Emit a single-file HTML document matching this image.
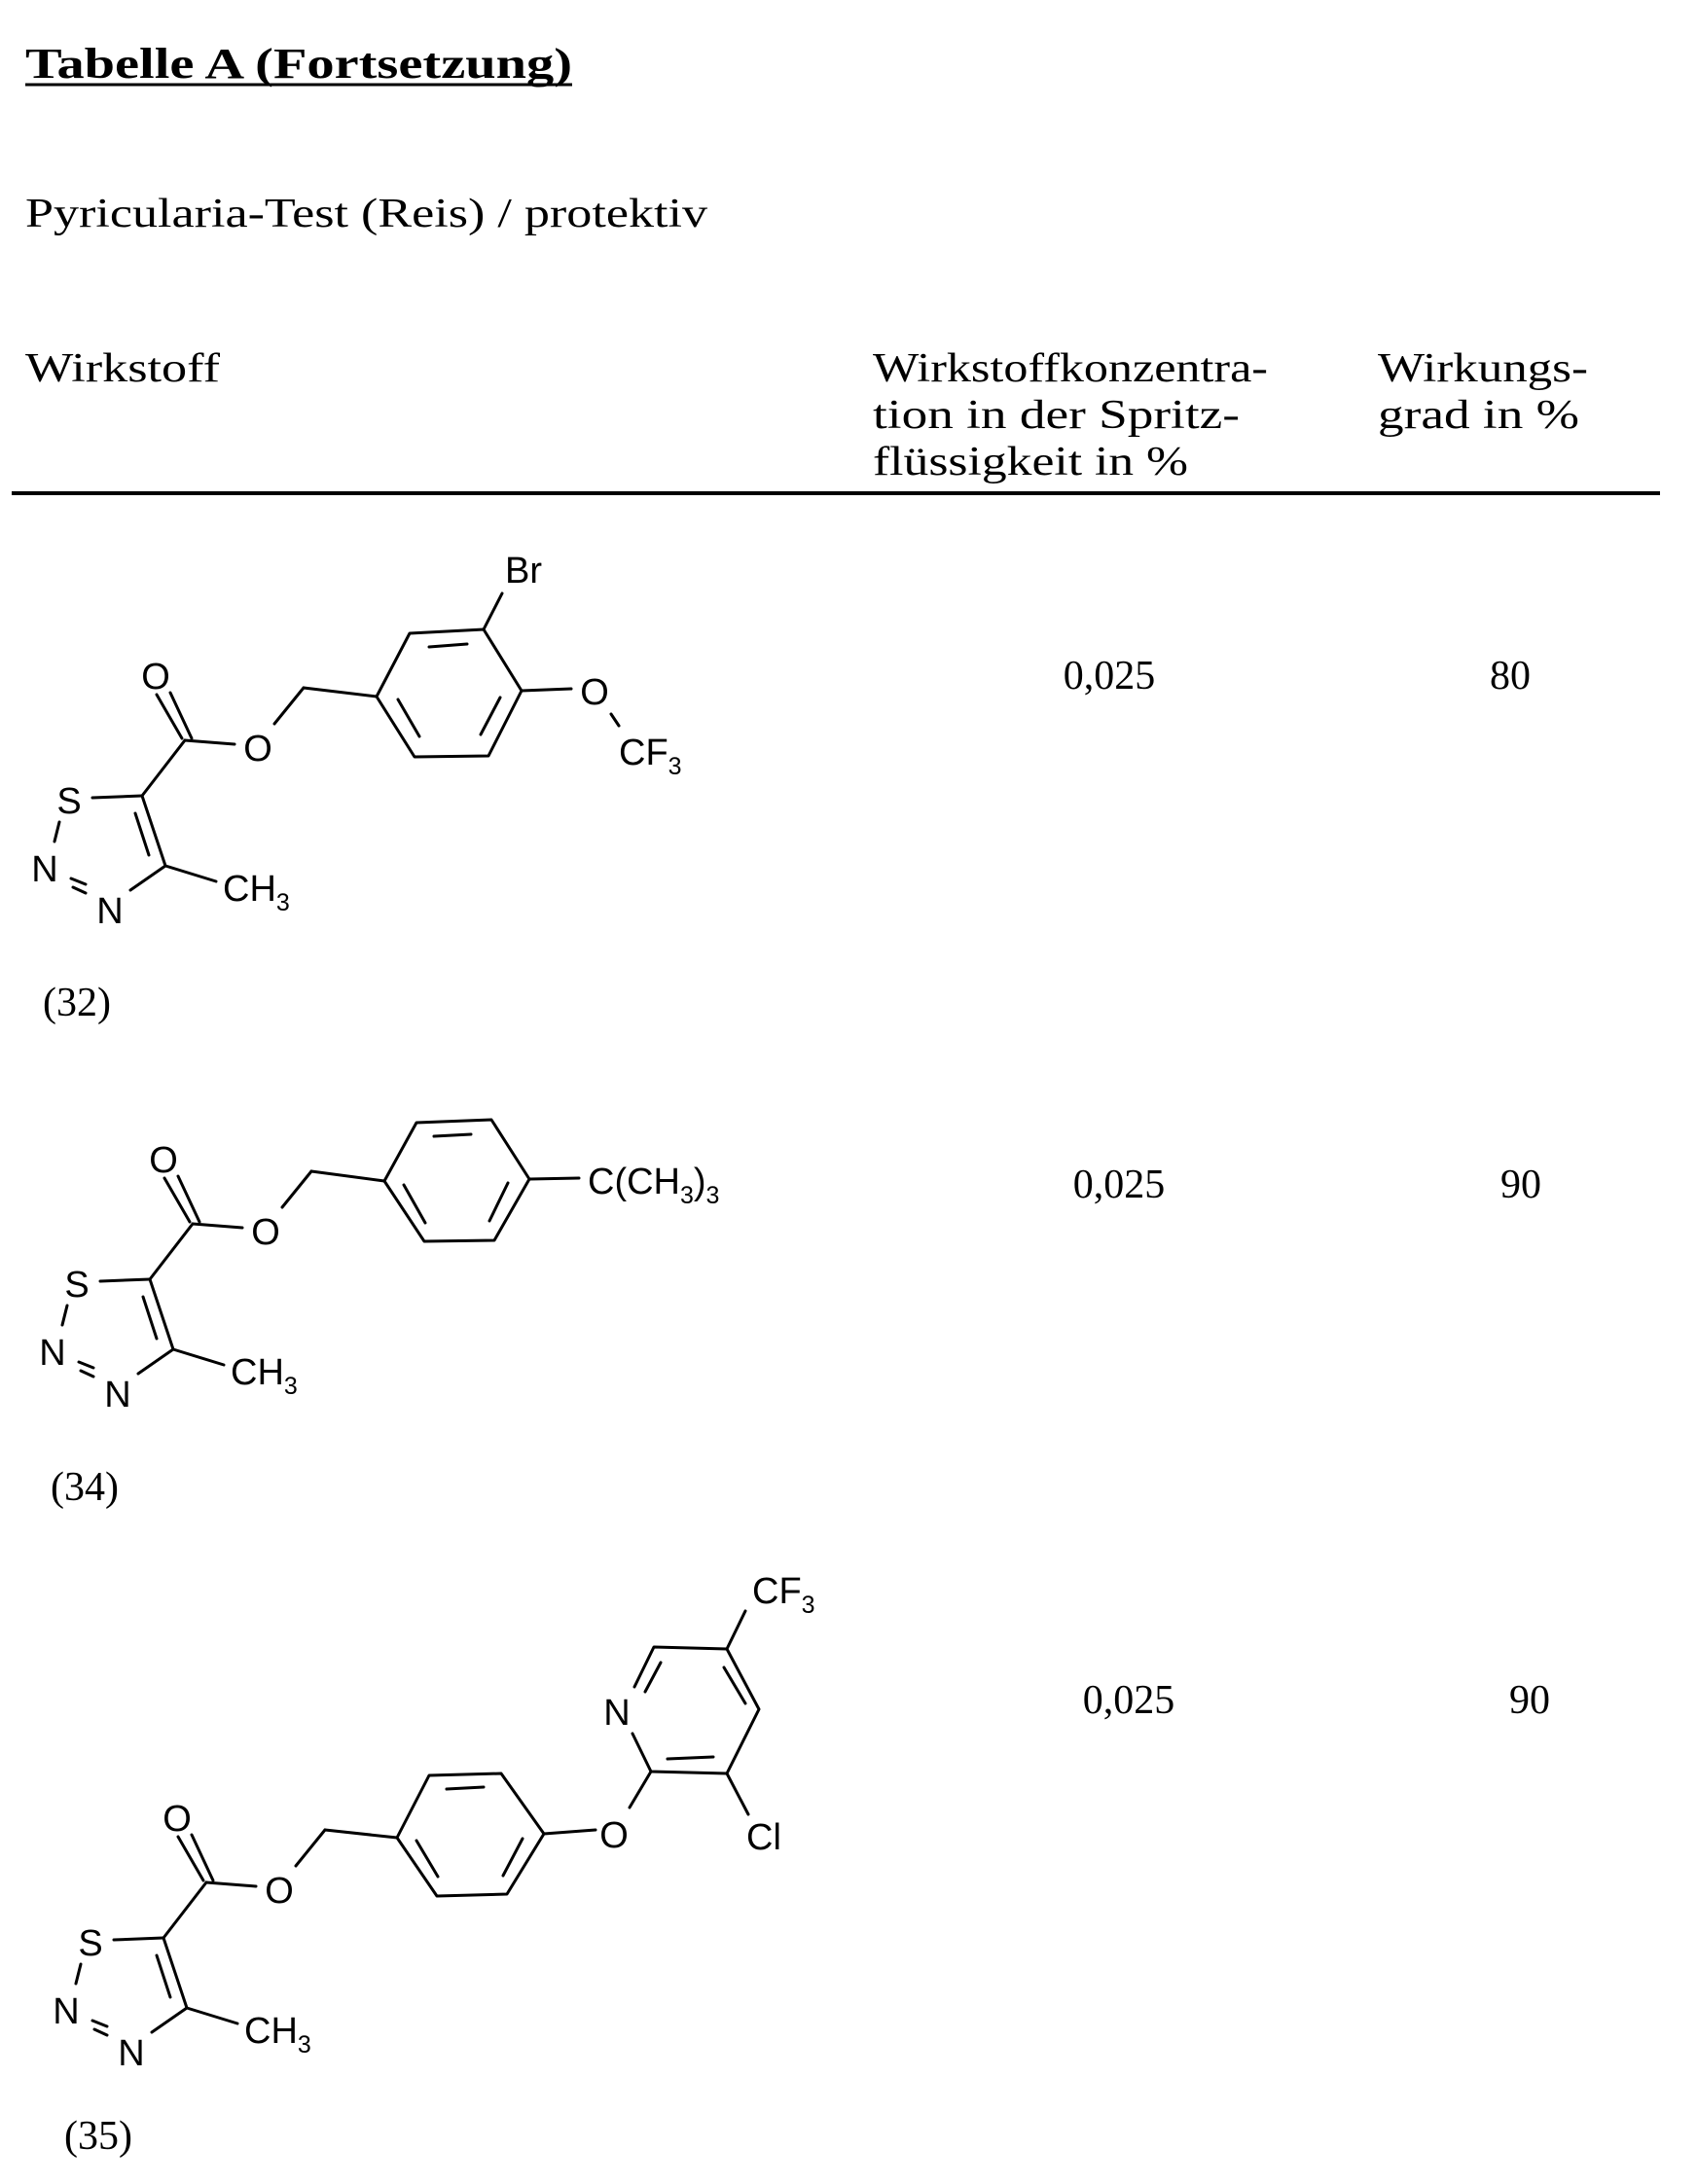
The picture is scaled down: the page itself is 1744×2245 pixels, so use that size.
<!DOCTYPE html>
<html><head><meta charset="utf-8"><style>
html,body{margin:0;padding:0;background:#fff;}
body{width:1744px;height:2245px;position:relative;overflow:hidden;}
svg{position:absolute;left:0;top:0;}
.t{font-family:"Liberation Serif",serif;fill:#000;}
.a{font-family:"Liberation Sans",sans-serif;fill:#000;font-size:38px;}
.s{font-size:25px;}
</style></head><body>
<svg width="1744" height="2245" viewBox="0 0 1744 2245">
<g class="t">
<text x="26" y="80" font-size="44" font-weight="bold" textLength="562" lengthAdjust="spacingAndGlyphs">Tabelle  A  (Fortsetzung)</text>
<line x1="26" y1="87" x2="588" y2="87" stroke="#000" stroke-width="3"/>
<text x="26" y="233" font-size="42" textLength="701" lengthAdjust="spacingAndGlyphs">Pyricularia-Test (Reis) / protektiv</text>
<text x="26" y="392" font-size="42" textLength="200" lengthAdjust="spacingAndGlyphs">Wirkstoff</text>
<text x="897" y="392" font-size="42" textLength="406" lengthAdjust="spacingAndGlyphs">Wirkstoffkonzentra-</text>
<text x="897" y="440" font-size="42" textLength="377" lengthAdjust="spacingAndGlyphs">tion in der Spritz-</text>
<text x="897" y="488" font-size="42" textLength="324" lengthAdjust="spacingAndGlyphs">flüssigkeit in %</text>
<text x="1416" y="392" font-size="42" textLength="216" lengthAdjust="spacingAndGlyphs">Wirkungs-</text>
<text x="1416" y="440" font-size="42" textLength="207" lengthAdjust="spacingAndGlyphs">grad in %</text>
<text x="1140" y="708" font-size="42" text-anchor="middle">0,025</text>
<text x="1552" y="708" font-size="42" text-anchor="middle">80</text>
<text x="1150" y="1231" font-size="42" text-anchor="middle">0,025</text>
<text x="1563" y="1231" font-size="42" text-anchor="middle">90</text>
<text x="1160" y="1761" font-size="42" text-anchor="middle">0,025</text>
<text x="1572" y="1761" font-size="42" text-anchor="middle">90</text>
<text x="79" y="1044" font-size="42" text-anchor="middle">(32)</text>
<text x="87" y="1542" font-size="42" text-anchor="middle">(34)</text>
<text x="101" y="2209" font-size="42" text-anchor="middle">(35)</text>
</g>
<line x1="12" y1="507" x2="1706" y2="507" stroke="#000" stroke-width="4"/>

<defs>
<g id="frag">
 <g stroke="#000" stroke-width="3" fill="none" stroke-linecap="round">
  <line x1="95" y1="820" x2="146" y2="818"/>
  <line x1="61" y1="845" x2="56" y2="865"/>
  <line x1="73" y1="903" x2="88" y2="909"/>
  <line x1="75" y1="912" x2="88" y2="918"/>
  <line x1="134" y1="915" x2="170" y2="890"/>
  <line x1="146" y1="818" x2="170" y2="890"/>
  <line x1="139" y1="836" x2="153" y2="879"/>
  <line x1="170" y1="890" x2="222" y2="906"/>
  <line x1="146" y1="818" x2="190" y2="761"/>
  <line x1="161" y1="714" x2="187" y2="759"/>
  <line x1="175" y1="712" x2="197" y2="759"/>
  <line x1="190" y1="761" x2="241" y2="765"/>
  <line x1="282" y1="744" x2="312" y2="707"/>
 </g>
 <g class="a" text-anchor="middle">
  <text x="71" y="836">S</text>
  <text x="46" y="906">N</text>
  <text x="113" y="949">N</text>
  <text x="160" y="708">O</text>
  <text x="265" y="782">O</text>
  <text x="229" y="926" text-anchor="start">CH<tspan class="s" dy="10">3</tspan></text>
 </g>
</g>
</defs>

<!-- 32 -->
<use href="#frag"/>
<g stroke="#000" stroke-width="3" fill="none" stroke-linecap="round" stroke-linejoin="round">
 <polyline points="312,707 387,716"/>
 <polygon points="387,716 421,651 497,647 536,710 502,777 426,778"/>
 <line x1="441" y1="665" x2="480" y2="662"/>
 <line x1="409" y1="719" x2="431" y2="757"/>
 <line x1="514" y1="717" x2="494" y2="755"/>
 <line x1="497" y1="647" x2="516" y2="610"/>
 <line x1="536" y1="710" x2="587" y2="708"/>
 <line x1="628" y1="734" x2="636" y2="746"/>
</g>
<g class="a">
 <text x="538" y="599" text-anchor="middle">Br</text>
 <text x="611" y="724" text-anchor="middle">O</text>
 <text x="636" y="786">CF<tspan class="s" dy="10">3</tspan></text>
</g>

<!-- 34 -->
<use href="#frag" transform="translate(8,497)"/>
<g stroke="#000" stroke-width="3" fill="none" stroke-linecap="round" stroke-linejoin="round">
 <polyline points="320,1204 395,1214"/>
 <polygon points="395,1214 428,1154 505,1151 544,1212 508,1275 436,1276"/>
 <line x1="446" y1="1168" x2="484" y2="1166"/>
 <line x1="415" y1="1218" x2="437" y2="1257"/>
 <line x1="522" y1="1216" x2="503" y2="1255"/>
 <line x1="544" y1="1212" x2="595" y2="1211"/>
</g>
<text class="a" x="604" y="1227">C(CH<tspan class="s" dy="10">3</tspan><tspan dy="-10">)</tspan><tspan class="s" dy="10">3</tspan></text>

<!-- 35 -->
<use href="#frag" transform="translate(22,1174)"/>
<g stroke="#000" stroke-width="3" fill="none" stroke-linecap="round" stroke-linejoin="round">
 <polyline points="334,1881 408,1889"/>
 <polygon points="408,1889 441,1825 515,1823 559,1885 521,1947 449,1949"/>
 <line x1="459" y1="1839" x2="497" y2="1837"/>
 <line x1="428" y1="1892" x2="450" y2="1929"/>
 <line x1="537" y1="1890" x2="517" y2="1928"/>
 <line x1="559" y1="1885" x2="612" y2="1881"/>
 <line x1="647" y1="1858" x2="669" y2="1821"/>
 <polyline points="650,1782 669,1821 747,1823 780,1757 747,1695 672,1693 652,1734"/>
 <line x1="663" y1="1739" x2="679" y2="1709"/>
 <line x1="766" y1="1751" x2="744" y2="1714"/>
 <line x1="686" y1="1808" x2="733" y2="1806"/>
 <line x1="747" y1="1695" x2="766" y2="1656"/>
 <line x1="747" y1="1823" x2="769" y2="1865"/>
</g>
<g class="a">
 <text x="634" y="1773" text-anchor="middle">N</text>
 <text x="631" y="1899" text-anchor="middle">O</text>
 <text x="773" y="1648">CF<tspan class="s" dy="10">3</tspan></text>
 <text x="785" y="1901" text-anchor="middle">Cl</text>
</g>
</svg>
</body></html>
